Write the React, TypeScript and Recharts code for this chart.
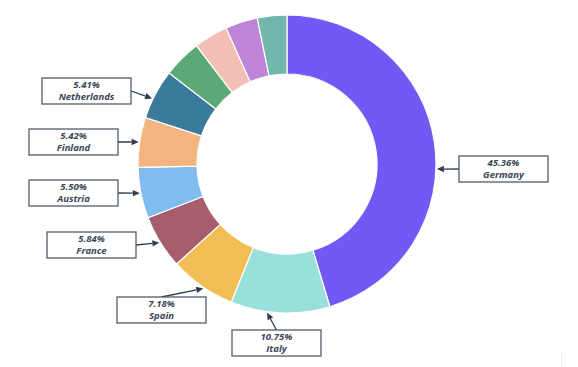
import React from 'react';
import { PieChart, Pie, Cell } from 'recharts';

const countries = ['Germany', 'Italy', 'Spain', 'France', 'Austria', 'Finland', 'Netherlands', 'Other A', 'Other B', 'Other C', 'Other D'];
const shares = [45.36, 10.75, 7.18, 5.84, 5.5, 5.42, 5.41, 4.14, 3.7, 3.5, 3.2];
const labelled = ['Germany', 'Italy', 'Spain', 'France', 'Austria', 'Finland', 'Netherlands'];

const sliceColors = ['#7358F6', '#98E0D9', '#F0BE55', '#A65D6C', '#82BCEE', '#F4B47F', '#3A7B9C', '#5CA877', '#F3BFB5', '#BF84D8', '#72B7AE'];

// annotation layout: box top-left, which edge the arrow leaves from, tip angle nudge (deg)
const boxW = 89;
const boxH = 26;
const labelLayout: { [k: string]: { x: number; y: number; side: 'left' | 'right' | 'top'; nudge: number } } = {
  Germany: { x: 459, y: 156, side: 'left', nudge: -10.3 },
  Italy: { x: 232, y: 330, side: 'top', nudge: -5 },
  Spain: { x: 117, y: 297, side: 'top', nudge: 1 },
  France: { x: 47, y: 232, side: 'right', nudge: 0 },
  Austria: { x: 29, y: 180, side: 'right', nudge: 0 },
  Finland: { x: 29, y: 129, side: 'right', nudge: 0 },
  Netherlands: { x: 42, y: 78, side: 'right', nudge: 2 },
};

const data = countries.map((name, i) => ({ name, value: shares[i] }));

const RAD = Math.PI / 180;

const renderLabel = (props: any) => {
  const { cx, cy, midAngle, outerRadius, name, value } = props;
  if (!labelled.includes(name)) return null;
  const lay = labelLayout[name];
  const a = (midAngle + lay.nudge) * RAD;
  const tx = cx + (outerRadius + 1) * Math.cos(a);
  const ty = cy - (outerRadius + 1) * Math.sin(a);
  let sx = lay.x + boxW / 2;
  let sy = lay.y + boxH / 2;
  if (lay.side === 'left') sx = lay.x;
  if (lay.side === 'right') sx = lay.x + boxW;
  if (lay.side === 'top') sy = lay.y;
  const ang = Math.atan2(ty - sy, tx - sx);
  const len = 7;
  const w = 3.2;
  const bx = tx - len * Math.cos(ang);
  const by = ty - len * Math.sin(ang);
  const px = -Math.sin(ang) * w;
  const py = Math.cos(ang) * w;
  return (
    <g key={name}>
      <line x1={sx} y1={sy} x2={bx} y2={by} stroke="#2E3D4E" strokeWidth={1.3} />
      <polygon points={`${tx},${ty} ${bx + px},${by + py} ${bx - px},${by - py}`} fill="#2E3D4E" />
      <rect x={lay.x} y={lay.y} width={boxW} height={boxH} fill="#fff" stroke="#525C6A" strokeWidth={1.3} />
      <text x={lay.x + boxW / 2} y={lay.y + 10} textAnchor="middle" fontSize={9.5} fontWeight={700} fontStyle="italic" fill="#3A4556" fontFamily="'Open Sans', sans-serif">
        {value.toFixed(2)}%
      </text>
      <text x={lay.x + boxW / 2} y={lay.y + 22} textAnchor="middle" fontSize={9.5} fontWeight={700} fontStyle="italic" fill="#3A4556" fontFamily="'Open Sans', sans-serif">
        {name}
      </text>
    </g>
  );
};

export default function App() {
  return (
    <div style={{ position: 'absolute', left: 0, top: 0, width: 578, height: 367, background: '#fff' }}>
      <PieChart width={578} height={367} margin={{ top: 0, right: 0, bottom: 0, left: 0 }}>
        <Pie
          data={data}
          dataKey="value"
          nameKey="name"
          cx={287}
          cy={164}
          innerRadius={90}
          outerRadius={149}
          startAngle={90}
          endAngle={-270}
          stroke="#fff"
          strokeWidth={1.2}
          label={renderLabel}
          labelLine={false}
          isAnimationActive={false}
        >
          {data.map((d, i) => (
            <Cell key={d.name} fill={sliceColors[i]} />
          ))}
        </Pie>
      </PieChart>
      <div style={{ position: 'absolute', left: 561, top: 351, width: 1, height: 16, background: '#eeeeee' }} />
    </div>
  );
}
